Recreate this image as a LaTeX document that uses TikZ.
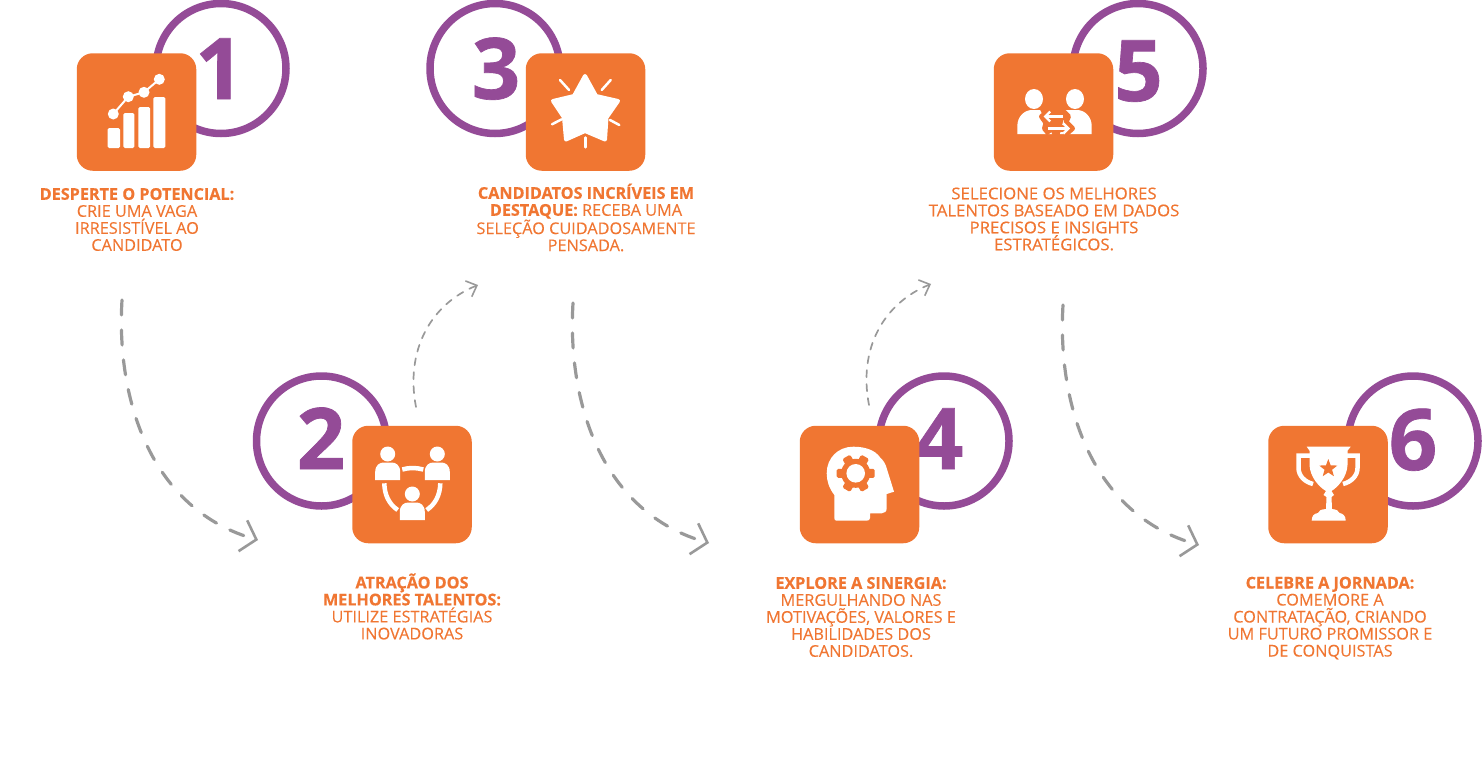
\documentclass[tikz,border=0pt]{standalone}
\usepackage{fontspec}
\setmainfont[UprightFeatures={FakeBold=0.2,FakeStretch=1.005},BoldFeatures={FakeBold=0.45}]{Open Sans}
\newfontfamily\digitfont[BoldFeatures={FakeBold=0.8}]{Open Sans}
\newfontfamily\heavyfont[FakeBold=0.5,FakeStretch=1.035]{Open Sans}
\usetikzlibrary{arrows.meta,shapes.geometric}
\definecolor{brandorange}{HTML}{F07632}
\definecolor{brandpurple}{HTML}{944B97}
\definecolor{flowgray}{HTML}{999999}
\tikzset{
  iconbox/.style={fill=brandorange, rounded corners=16pt, minimum width=119.5pt, minimum height=117.5pt, inner sep=0pt},
  numring/.style={circle, draw=brandpurple, line width=7.5pt, fill=white, minimum size=130pt, inner sep=0pt},
  numlabel/.style={anchor=base, text=brandpurple, font=\digitfont\bfseries\fontsize{85}{85}\selectfont, inner sep=0pt},
  steptext/.style={align=center, text=brandorange, font=\fontsize{16.2}{17}\selectfont, inner sep=0pt},
  bigflow/.style={draw=flowgray, line width=3.2pt, line cap=round, dash pattern=on 15pt off 15pt, -{Straight Barb[length=14pt,width=32pt,line width=2.6pt]}},
  smallflow/.style={draw=flowgray, line width=1.7pt, line cap=round, dash pattern=on 7pt off 7pt, -{Straight Barb[length=9pt,width=17pt,line width=1.6pt]}},
  whiteline/.style={draw=white, line width=4.5pt}
}
\newcommand{\personicon}[2]{
  \fill[white] (#1,#2) circle (7.5pt);
  \fill[white] (#1-12.5,#2+26) -- (#1-12.5,#2+18) .. controls (#1-12.5,#2+11) and (#1-8,#2+8.5) .. (#1-4,#2+8.5) -- (#1+4,#2+8.5) .. controls (#1+8,#2+8.5) and (#1+12.5,#2+11) .. (#1+12.5,#2+18) -- (#1+12.5,#2+26) -- cycle;
}
\begin{document}
\begin{tikzpicture}[x=1pt,y=-1pt]
    \useasboundingbox (0,0) rectangle (1482,771);

    % Flow arrows
    \coordinate (flowas) at (122,300);
    \coordinate (flowae) at (258,540);
    \coordinate (flowbs) at (416,407);
    \coordinate (flowbe) at (478,285);
    \coordinate (flowcs) at (573,303);
    \coordinate (flowce) at (709,543);
    \coordinate (flowds) at (869,405);
    \coordinate (flowde) at (931,284);
    \coordinate (flowes) at (1063,305);
    \coordinate (flowee) at (1199,545);
    \draw[bigflow] (flowas) .. controls +(-6,100) and +(-107,-30) .. (flowae);
    \draw[smallflow] (flowbs) .. controls +(-11,-57) and +(-47,19) .. (flowbe);
    \draw[bigflow] (flowcs) .. controls +(-6,100) and +(-107,-30) .. (flowce);
    \draw[smallflow] (flowds) .. controls +(-11,-57) and +(-47,19) .. (flowde);
    \draw[bigflow] (flowes) .. controls +(-6,100) and +(-107,-30) .. (flowee);

    % Step 1
    \node[numring] (ringa) at (221,68.5) {};
    \node[numlabel] (numa) at (219.5,99) {1};
    \node[iconbox] (boxa) at (136.5,112) {};
    \foreach \xa/\xb/\ytop in {107.7/120/128, 123.3/134.3/113, 138.3/150/107, 153.3/165.3/97}
        \fill[white, rounded corners=1.5pt] (\xa,\ytop) rectangle (\xb,148);
    \draw[white, line width=2pt] (113.3,114) -- (128.3,96.7) -- (144,92.3) -- (159.3,79.3);
    \foreach \xa/\ya in {113.3/114, 128.3/96.7, 144/92.3, 159.3/79.3}
        \fill[white] (\xa,\ya) circle (5.5pt);
    \node[steptext] (texta) at (137,219.5) {\textbf{DESPERTE O POTENCIAL:}\\CRIE UMA VAGA\\IRRESISTÍVEL AO\\CANDIDATO};

    % Step 2
    \node[numring] (ringb) at (321.5,441) {};
    \node[numlabel] (numb) at (321,469) {2};
    \node[iconbox] (boxb) at (412,484.5) {};
    \personicon{387.7}{454}
    \personicon{437.3}{454}
    \personicon{412.3}{494}
    \draw[whiteline] (402.3,469.5) .. controls (409,467.5) and (416,467.5) .. (423.3,469.5);
    \draw[whiteline] (384.3,483.3) .. controls (384.5,495) and (389,504) .. (397.7,510);
    \draw[whiteline] (440.3,483.3) .. controls (440,495) and (435.5,504) .. (426.7,510);
    \node[steptext] (textb) at (412,606.5) {\textbf{ATRAÇÃO DOS}\\\textbf{MELHORES TALENTOS:}\\UTILIZE ESTRATÉGIAS\\INOVADORAS};

    % Step 3
    \node[numring] (ringc) at (495,68.5) {};
    \node[numlabel] (numc) at (496,99) {3};
    \node[iconbox] (boxc) at (585.5,112) {};
    \draw[white, fill=white, line width=4pt, line join=round] (585,76) -- (596,96) -- (618,101) -- (606.5,117.5) -- (605,139.5) -- (585,131) -- (566,139.5) -- (564,117.5) -- (553,101) -- (574,96) -- cycle;
    \draw[white, line width=2.5pt, line cap=round] (560,80) -- (569,90);
    \draw[white, line width=2.5pt, line cap=round] (610.7,80) -- (601.7,90);
    \draw[white, line width=2.5pt, line cap=round] (552,124.3) -- (561.7,119.3);
    \draw[white, line width=2.5pt, line cap=round] (619.3,125) -- (610,120);
    \draw[white, line width=2.5pt, line cap=round] (585.3,137.5) -- (585.3,147.3);
    \node[steptext] (textc) at (586,217.5) {\textbf{CANDIDATOS INCRÍVEIS EM}\\\textbf{DESTAQUE:} RECEBA UMA\\SELEÇÃO CUIDADOSAMENTE\\PENSADA.};

    % Step 4
    \node[numring] (ringd) at (944,441) {};
    \node[numlabel] (numd) at (939,469) {4};
    \node[iconbox] (boxd) at (859.5,484.5) {};
    \fill[white] (834.3,518) -- (834.3,495) .. controls (829,488) and (826.7,481) .. (826.7,473.3) .. controls (826.7,458) and (838,446.7) .. (853.3,446.7) .. controls (865,446.7) and (875,450) .. (880,457.3) .. controls (884,461) and (886,465) .. (886.7,468.3) -- (894,491.7) -- (886.7,494) -- (886.7,508.3) .. controls (886.7,511.5) and (884.5,513.3) .. (881.7,513.3) -- (870,513.3) -- (870,518) .. controls (870,519.8) and (868.5,520.7) .. (866.7,520.7) -- (836.7,520.7) .. controls (835,520.7) and (834.3,519.8) .. (834.3,518) -- cycle;
    \fill[brandorange] (855.7,473.3) circle (14.5pt);
    \foreach \ang in {0,60,...,300}
        \fill[brandorange, rounded corners=1.5pt, shift={(855.7,473.3)}, rotate=\ang] (10,-4.5) rectangle (19,4.5);
    \fill[white] (855.7,473.3) circle (9.3pt);
    \node[steptext] (textd) at (861,617) {\textbf{EXPLORE A SINERGIA:}\\MERGULHANDO NAS\\MOTIVAÇÕES, VALORES E\\HABILIDADES DOS\\CANDIDATOS.};

    % Step 5
    \node[numring] (ringe) at (1138,68.5) {};
    \node[numlabel] (nume) at (1138.5,101) {5};
    \node[iconbox] (boxe) at (1053.5,112) {};
    \fill[white] (1034,99) ellipse (9pt and 10pt);
    \fill[white] (1075,99) ellipse (9pt and 10pt);
    \fill[white] (1017.3,134) -- (1017.3,126) .. controls (1017.3,117) and (1024,110) .. (1032,110) -- (1040,110) -- (1052,134) -- cycle;
    \fill[white] (1091.7,134) -- (1091.7,126) .. controls (1091.7,117) and (1085,110) .. (1077,110) -- (1066,110) -- (1060,134) -- cycle;
    \draw[brandorange, line width=7pt] (1067,116.5) -- (1043,116.5);
    \draw[brandorange, line width=7pt] (1046,128.5) -- (1071,128.5);
    \draw[brandorange, line width=5pt, line join=round] (1050,110) -- (1041.5,116.5) -- (1046,123) -- (1044.5,128.5) -- (1049,134);
    \draw[brandorange, line width=5pt, line join=round] (1064,112) -- (1068.5,116.5) -- (1066,122) -- (1072.5,128.5) -- (1065,135);
    \draw[white, line width=2.8pt, -{Straight Barb[length=5pt,width=10pt,line width=2.4pt]}] (1063,116.5) -- (1043.5,116.5);
    \draw[white, line width=2.8pt, -{Straight Barb[length=5pt,width=10pt,line width=2.4pt]}] (1048,128.5) -- (1070,128.5);
    \node[steptext] (texte) at (1054,219) {\heavyfont SELECIONE OS MELHORES\\\heavyfont TALENTOS BASEADO EM DADOS\\\heavyfont PRECISOS E INSIGHTS\\\heavyfont ESTRATÉGICOS.};

    % Step 6
    \node[numring] (ringf) at (1413,441) {};
    \node[numlabel] (numf) at (1413,470) {6};
    \node[iconbox] (boxf) at (1328,484.5) {};
    \draw[white, line width=4.5pt] (1311,455.5) -- (1298.5,455.5) -- (1298.5,468) .. controls (1298.5,476) and (1305,482) .. (1313,484);
    \draw[white, line width=4.5pt] (1345,455.5) -- (1357.5,455.5) -- (1357.5,468) .. controls (1357.5,476) and (1351,482) .. (1343,484);
    \fill[white] (1306.7,446.7) -- (1350.7,446.7) -- (1347.5,450.7) -- (1347.5,465) .. controls (1347,477) and (1338,487) .. (1331.5,491) -- (1334,495) -- (1331.5,497) -- (1332,509) .. controls (1336,509.5) and (1339,510.5) .. (1339.5,513) .. controls (1343,513.5) and (1345.7,516) .. (1345.7,520.5) -- (1311.7,520.5) .. controls (1311.7,516) and (1314,513.5) .. (1318,513) .. controls (1318.5,510.5) and (1321,509.5) .. (1326,509) -- (1326.5,497) -- (1323.5,495) -- (1326,491) .. controls (1319,487) and (1310,477) .. (1309.5,465) -- (1309.5,450.7) -- cycle;
    \node[star, star points=5, star point ratio=2.4, fill=brandorange, minimum size=19pt, inner sep=0pt] (starf) at (1328.3,468.5) {};
    \node[steptext] (textf) at (1330,618) {\textbf{CELEBRE A JORNADA:}\\COMEMORE A\\CONTRATAÇÃO, CRIANDO\\UM FUTURO PROMISSOR E\\DE CONQUISTAS};
\end{tikzpicture}
\end{document}
